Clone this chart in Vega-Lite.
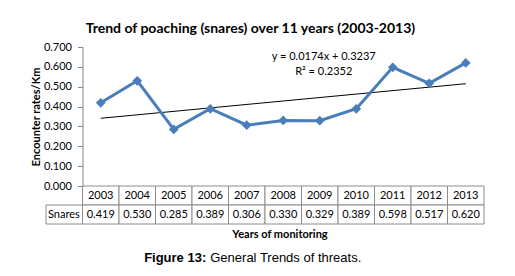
{
  "$schema": "https://vega.github.io/schema/vega-lite/v6.json",
  "padding": {"left": 30, "top": 22, "right": 0, "bottom": 0},
  "background": "white",
  "title": {"text": "Trend of poaching (snares) over 11 years (2003-2013)", "font": "Lato", "fontSize": 14, "fontWeight": "bold", "color": "#000000", "anchor": "middle", "offset": 5, "dx": -7},
  "datasets": {
    "snares": [
      {"year": "2003", "snares": 0.419},
      {"year": "2004", "snares": 0.530},
      {"year": "2005", "snares": 0.285},
      {"year": "2006", "snares": 0.389},
      {"year": "2007", "snares": 0.306},
      {"year": "2008", "snares": 0.330},
      {"year": "2009", "snares": 0.329},
      {"year": "2010", "snares": 0.389},
      {"year": "2011", "snares": 0.598},
      {"year": "2012", "snares": 0.517},
      {"year": "2013", "snares": 0.620}
    ],
    "trend": [
      {"year": "2003", "trend": 0.3411},
      {"year": "2013", "trend": 0.5151}
    ],
    "equation": [{"eq": "y = 0.0174x + 0.3237", "r2": "R² = 0.2352"}],
    "header": [{"label": "Snares"}],
    "caption": [{"bold": "Figure 13:", "rest": "General Trends of threats."}]
  },
  "spacing": 0,
  "bounds": "flush",
  "vconcat": [
    {
      "width": 438,
      "height": 139,
      "layer": [
        {
          "data": {"name": "trend"},
          "mark": {"type": "line", "color": "#000000", "strokeWidth": 1},
          "encoding": {
            "x": {"field": "year", "type": "nominal", "scale": {"domain": ["series", "2003", "2004", "2005", "2006", "2007", "2008", "2009", "2010", "2011", "2012", "2013"], "paddingInner": 0, "paddingOuter": 0}, "axis": null},
            "y": {"field": "trend", "type": "quantitative", "title": "Encounter rates/Km", "scale": {"domain": [0, 0.7], "nice": false}, "axis": {"values": [0, 0.1, 0.2, 0.3, 0.4, 0.5, 0.6, 0.7], "format": ".3f", "offset": -36.5, "tickSize": 5, "labelPadding": 6, "titlePadding": 2, "grid": false}}
          }
        },
        {
          "data": {"name": "snares"},
          "mark": {"type": "line", "color": "#4a7ebb", "strokeWidth": 3},
          "encoding": {
            "x": {"field": "year", "type": "nominal", "axis": null},
            "y": {"field": "snares", "type": "quantitative", "title": "Encounter rates/Km", "axis": {"values": [0, 0.1, 0.2, 0.3, 0.4, 0.5, 0.6, 0.7], "format": ".3f", "offset": -36.5, "tickSize": 5, "labelPadding": 6, "titlePadding": 2, "grid": false}}
          }
        },
        {
          "data": {"name": "snares"},
          "mark": {"type": "point", "shape": "diamond", "filled": true, "color": "#4a7ebb", "size": 95, "opacity": 1},
          "encoding": {
            "x": {"field": "year", "type": "nominal", "axis": null},
            "y": {"field": "snares", "type": "quantitative", "title": "Encounter rates/Km", "axis": {"values": [0, 0.1, 0.2, 0.3, 0.4, 0.5, 0.6, 0.7], "format": ".3f", "offset": -36.5, "tickSize": 5, "labelPadding": 6, "titlePadding": 2, "grid": false}}
          }
        },
        {
          "data": {"name": "equation"},
          "mark": {"type": "text", "font": "Lato", "fontSize": 11, "color": "#000000", "dx": 4, "baseline": "middle"},
          "encoding": {
            "x": {"datum": "2009", "type": "nominal", "axis": null},
            "y": {"datum": 0.652, "type": "quantitative", "title": "Encounter rates/Km", "axis": {"values": [0, 0.1, 0.2, 0.3, 0.4, 0.5, 0.6, 0.7], "format": ".3f", "offset": -36.5, "tickSize": 5, "labelPadding": 6, "titlePadding": 2, "grid": false}},
            "text": {"field": "eq", "type": "nominal"}
          }
        },
        {
          "data": {"name": "equation"},
          "mark": {"type": "text", "font": "Lato", "fontSize": 11, "color": "#000000", "dx": 4, "baseline": "middle"},
          "encoding": {
            "x": {"datum": "2009", "type": "nominal", "axis": null},
            "y": {"datum": 0.572, "type": "quantitative", "title": "Encounter rates/Km", "axis": {"values": [0, 0.1, 0.2, 0.3, 0.4, 0.5, 0.6, 0.7], "format": ".3f", "offset": -36.5, "tickSize": 5, "labelPadding": 6, "titlePadding": 2, "grid": false}},
            "text": {"field": "r2", "type": "nominal"}
          }
        }
      ]
    },
    {
      "width": 438,
      "height": 38,
      "layer": [
        {
          "data": {"name": "snares"},
          "mark": {"type": "rect", "fill": "white", "stroke": "#8c8c8c", "strokeWidth": 1},
          "encoding": {
            "x": {"field": "year", "type": "nominal", "title": "Years of monitoring", "scale": {"domain": ["series", "2003", "2004", "2005", "2006", "2007", "2008", "2009", "2010", "2011", "2012", "2013"], "paddingInner": 0, "paddingOuter": 0}},
            "y": {"datum": "Year", "type": "nominal", "scale": {"domain": ["Year", "Snares"], "paddingInner": 0, "paddingOuter": 0}, "axis": null}
          }
        },
        {
          "data": {"name": "snares"},
          "mark": {"type": "rect", "fill": "white", "stroke": "#8c8c8c", "strokeWidth": 1},
          "encoding": {
            "x": {"field": "year", "type": "nominal", "title": "Years of monitoring"},
            "y": {"datum": "Snares", "type": "nominal", "axis": null}
          }
        },
        {
          "data": {"name": "header"},
          "mark": {"type": "rect", "fill": "white", "stroke": "#8c8c8c", "strokeWidth": 1},
          "encoding": {
            "x": {"datum": "series", "type": "nominal", "title": "Years of monitoring"},
            "y": {"datum": "Snares", "type": "nominal", "axis": null}
          }
        },
        {
          "data": {"name": "snares"},
          "mark": {"type": "text", "font": "Lato", "fontSize": 11, "color": "#000000", "baseline": "middle"},
          "encoding": {
            "x": {"field": "year", "type": "nominal", "title": "Years of monitoring"},
            "y": {"datum": "Year", "type": "nominal", "axis": null},
            "text": {"field": "year", "type": "nominal"}
          }
        },
        {
          "data": {"name": "snares"},
          "mark": {"type": "text", "font": "Lato", "fontSize": 11, "color": "#000000", "baseline": "middle"},
          "encoding": {
            "x": {"field": "year", "type": "nominal", "title": "Years of monitoring"},
            "y": {"datum": "Snares", "type": "nominal", "axis": null},
            "text": {"field": "snares", "type": "quantitative", "format": ".3f"}
          }
        },
        {
          "data": {"name": "header"},
          "mark": {"type": "text", "font": "Lato", "fontSize": 11, "color": "#000000", "baseline": "middle", "align": "left", "dx": 2},
          "encoding": {
            "x": {"datum": "series", "type": "nominal", "bandPosition": 0, "title": "Years of monitoring"},
            "y": {"datum": "Snares", "type": "nominal", "axis": null},
            "text": {"field": "label", "type": "nominal"}
          }
        },
        {
          "data": {"name": "caption"},
          "mark": {"type": "text", "font": "Liberation Sans", "fontSize": 13, "fontWeight": "bold", "color": "#000000", "baseline": "middle", "align": "right", "dx": -4, "dy": 43.5},
          "encoding": {
            "x": {"datum": "2006", "type": "nominal", "title": "Years of monitoring"},
            "y": {"datum": "Snares", "type": "nominal", "axis": null},
            "text": {"field": "bold", "type": "nominal"}
          }
        },
        {
          "data": {"name": "caption"},
          "mark": {"type": "text", "font": "Liberation Sans", "fontSize": 13, "fontWeight": "normal", "color": "#000000", "baseline": "middle", "align": "left", "dx": 0, "dy": 43.5},
          "encoding": {
            "x": {"datum": "2006", "type": "nominal", "title": "Years of monitoring"},
            "y": {"datum": "Snares", "type": "nominal", "axis": null},
            "text": {"field": "rest", "type": "nominal"}
          }
        }
      ]
    }
  ],
  "config": {
    "view": {"stroke": null},
    "font": "Lato",
    "axisY": {"domainColor": "#868686", "tickColor": "#868686", "labelColor": "#000000", "labelFont": "Lato", "labelFontSize": 11, "titleFont": "Lato", "titleFontSize": 11, "titleFontWeight": "bold", "titleColor": "#000000"},
    "axisX": {"labels": false, "ticks": false, "domain": false, "grid": false, "titleFont": "Lato", "titleFontSize": 11, "titleFontWeight": "bold", "titleColor": "#000000", "titlePadding": 4, "titleX": 233.5}
  }
}
